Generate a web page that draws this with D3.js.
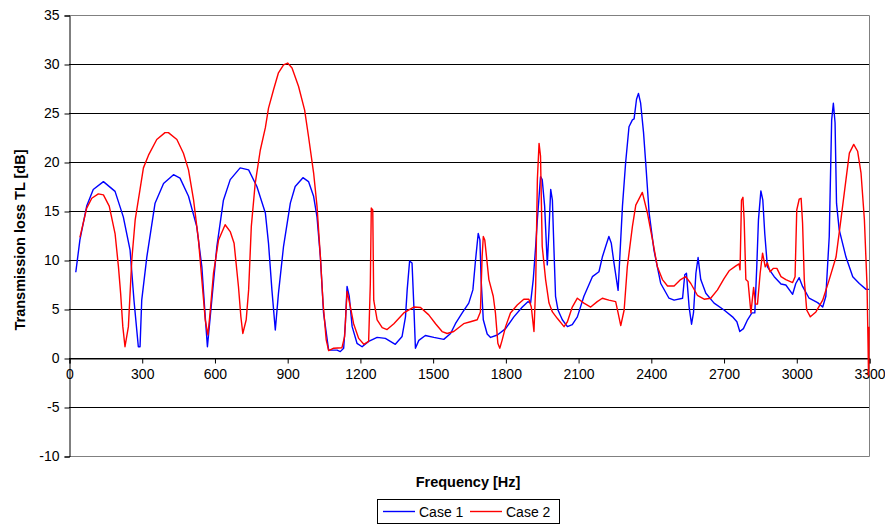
<!DOCTYPE html>
<html>
<head>
<meta charset="utf-8">
<script src="https://cdn.jsdelivr.net/npm/d3@7"></script>
<style>
  body { margin: 0; background: #fff; }
  svg { display: block; font-family: "Liberation Sans", Arial, sans-serif; }
  .tick text { fill: #000; }
</style>
</head>
<body>
<svg id="chart"></svg>
<script>
// data
var xTicks = [0,300,600,900,1200,1500,1800,2100,2400,2700,3000,3300]
var yTicks = [-10,-5,0,5,10,15,20,25,30,35]

var case1Freq = [28,45,73,100,142,190,224,252,268,286,293,300,321,355,390,431,458,493,527,548,562,571,589,610,637,665,706,741,775,810,823,837,851,864,885,913,933,965,988,1009,1023,1037,1050,1071,1106,1119,1133,1140,1147,1156,1168,1188,1209,1236,1271,1305,1346,1374,1388,1395,1405,1415,1422,1429,1443,1470,1505,1546,1574,1594,1622,1649,1666,1677,1688,1695,1700,1709,1725,1739,1767,1801,1835,1870,1893,1904,1915,1925,1932,1945,1952,1962,1973,1980,1987,1994,2000,2007,2017,2035,2056,2076,2097,2124,2159,2186,2200,2214,2227,2237,2248,2265,2273,2283,2296,2310,2324,2331,2341,2349,2358,2370,2379,2393,2413,2441,2475,2496,2531,2540,2547,2558,2568,2576,2586,2595,2606,2627,2661,2702,2737,2755,2767,2782,2799,2817,2829,2837,2844,2854,2862,2870,2881,2909,2937,2957,2985,2998,3012,3026,3053,3088,3109,3122,3136,3146,3153,3160,3166,3177,3205,3233,3260,3288,3300]
var case1TL = [8.75,12.05,15.5,17.2,18.0,17.0,14.4,11.0,5.9,1.15,1.15,5.9,10.3,15.8,17.8,18.7,18.35,16.5,13.4,9.3,4.2,1.15,5.9,11.4,16.1,18.2,19.4,19.2,17.5,14.8,11.7,6.95,2.86,6.6,11.4,15.8,17.5,18.4,18.0,16.5,14.4,10.3,4.6,0.8,0.8,0.65,1.0,3.5,7.3,6.3,3.2,1.5,1.15,1.7,2.1,2.0,1.4,2.2,4.2,6.95,9.9,9.7,5.6,1.0,1.8,2.3,2.1,1.9,2.5,3.5,4.6,5.6,6.95,10.0,12.7,12.05,8.0,3.9,2.45,2.1,2.35,3.0,4.2,5.2,5.75,5.6,8.0,11.4,14.1,18.5,18.2,15.5,9.5,13.1,17.2,16.1,11.4,6.3,4.9,3.9,3.2,3.4,4.2,6.3,8.3,8.8,10.3,11.4,12.4,11.7,9.7,6.9,10.7,15.5,19.9,23.6,24.3,24.4,26.4,27.0,26.0,23.0,19.9,14.8,11.0,7.6,6.1,5.9,6.1,8.5,8.65,5.2,3.45,4.6,8.65,10.25,8.0,6.6,5.6,4.9,4.2,3.7,2.7,3.0,3.9,4.6,4.6,9.3,14.1,17.05,16.1,12.7,9.3,8.3,7.55,7.45,6.5,7.6,8.2,7.3,6.1,5.65,5.2,6.3,12.4,24.3,26.0,24.0,15.8,13.1,10.3,8.3,7.6,7.0,7.0]

var case2Freq = [45,73,94,121,142,166,190,204,213,222,231,245,259,273,293,307,328,362,396,410,445,472,493,514,534,548,562,573,582,596,617,644,665,681,699,709,717,731,741,752,768,789,810,823,844,864,885,902,920,947,972,988,1009,1023,1037,1048,1061,1071,1092,1126,1137,1147,1161,1174,1195,1216,1236,1243,1247,1253,1257,1271,1292,1312,1340,1381,1422,1450,1484,1512,1539,1560,1587,1628,1656,1684,1697,1704,1709,1715,1732,1750,1759,1769,1777,1787,1801,1821,1849,1876,1897,1907,1918,1925,1932,1939,1945,1952,1966,1980,1994,2014,2042,2056,2076,2097,2124,2152,2179,2200,2227,2255,2265,2276,2290,2303,2324,2338,2365,2386,2407,2427,2448,2469,2496,2523,2544,2565,2592,2620,2647,2675,2702,2723,2751,2764,2768,2774,2780,2785,2792,2801,2813,2824,2832,2840,2851,2861,2872,2881,2892,2906,2920,2937,2957,2985,2995,3002,3012,3020,3026,3033,3043,3058,3081,3109,3136,3164,3184,3205,3219,3237,3253,3267,3281,3292,3296,3298,3299,3300]
var case2TL = [12.3,15.3,16.3,16.75,16.65,15.5,12.7,9.3,6.6,3.2,1.15,3.2,10.0,14.1,17.2,19.4,20.7,22.3,23.0,23.0,22.3,20.9,19.2,16.1,12.05,8.0,3.9,2.35,4.6,8.65,12.05,13.6,12.9,11.7,7.3,4.2,2.5,3.9,6.95,13.4,17.8,21.2,23.5,25.5,27.4,29.1,29.9,30.1,29.6,27.7,25.3,22.6,18.9,15.5,10.3,5.6,1.85,0.75,1.0,1.05,2.2,6.8,5.2,3.5,2.0,1.4,1.7,7.6,15.3,15.1,5.9,3.9,3.1,2.9,3.5,4.6,5.2,5.15,4.4,3.5,2.7,2.5,2.7,3.5,3.7,3.9,4.7,10.3,12.4,12.05,8.0,6.3,4.6,1.5,1.0,1.85,3.2,4.6,5.4,6.0,6.0,5.2,2.7,7.3,18.2,21.9,20.6,11.4,8.0,5.6,4.7,4.05,3.2,3.7,5.2,6.1,5.6,5.2,5.75,6.1,5.9,5.75,4.6,3.3,4.9,9.3,13.4,15.6,16.9,14.8,12.05,9.3,8.0,7.35,7.35,8.0,8.3,7.6,6.4,6.0,6.1,6.95,8.1,8.9,9.4,9.6,9.0,16.1,16.4,14.1,8.0,7.8,4.6,7.2,5.5,5.5,8.65,10.7,9.3,9.7,8.8,9.15,9.15,8.3,8.0,7.7,8.3,15.1,16.2,16.3,13.75,8.0,4.9,4.2,4.7,5.9,8.0,10.3,14.1,18.2,20.9,21.8,21.1,18.9,14.1,7.3,1.5,-1.8,-0.5,3.2]

var seriesNames = ["Case 1","Case 2"]
var seriesColors = ["#0000ff","#ff0000"]

var svg = d3.select("#chart").attr("width",885).attr("height",524)

var x = d3.scaleLinear().domain([0,3300]).range([69,869])
var y = d3.scaleLinear().domain([-10,35]).range([456,15])
var plain = d=>String(d)   // no thousands comma, hyphen minus

// gridlines
svg.append("g")
   .selectAll("line")
   .data(yTicks.filter(d=>d>-10 && d<35))
   .enter()
   .append("line")
   .attr("x1",x(0)).attr("x2",x(3300))
   .attr("y1",d=>Math.round(y(d))+0.5).attr("y2",d=>Math.round(y(d))+0.5)
   .attr("stroke","#000").attr("stroke-width",1)

// plot border (top, right, bottom)
svg.append("path")
   .attr("d","M"+x(0)+","+(y(35)+0.5)+"H"+(x(3300)+0.5)+"V"+(y(-10)+0.5)+"H"+x(0))
   .attr("fill","none").attr("stroke","#808080")

// y axis
var yAxis = svg.append("g")
   .attr("transform","translate("+(x(0)+0.5)+",0.5)")
   .call(d3.axisLeft(y).tickValues(yTicks).tickFormat(plain).tickSize(5).tickPadding(5))
yAxis.selectAll("path, line").attr("stroke","#000")
yAxis.selectAll("text").attr("font-size",14).attr("font-family","Liberation Sans, Arial")

// x axis crosses at 0
var xAxis = svg.append("g")
   .attr("transform","translate(0.5,"+(Math.round(y(0))+0.5)+")")
   .call(d3.axisBottom(x).tickValues(xTicks).tickFormat(plain).tickSize(5).tickPadding(6))
xAxis.select(".domain").attr("stroke","#000")
xAxis.selectAll("line").attr("stroke","#000")
xAxis.selectAll("text").attr("font-size",14).attr("font-family","Liberation Sans, Arial")

// lines
var line = d3.line().x(d=>x(d[0])).y(d=>y(d[1]))
var series = [d3.zip(case1Freq,case1TL), d3.zip(case2Freq,case2TL)]

svg.append("g")
   .selectAll("path")
   .data(series)
   .enter()
   .append("path")
   .attr("d",line)
   .attr("fill","none")
   .attr("stroke",(d,i)=>seriesColors[i])
   .attr("stroke-width",1.4)
   .attr("stroke-linejoin","round")

// titles
svg.append("text")
   .text("Frequency [Hz]")
   .attr("x",468).attr("y",487)
   .attr("text-anchor","middle")
   .style("font-weight","bold").style("font-size","14.5px")

svg.append("text")
   .text("Transmission loss TL [dB]")
   .attr("transform","translate(25,240) rotate(-90)")
   .attr("text-anchor","middle")
   .style("font-weight","bold").style("font-size","14.5px")

// legend
var legend = svg.append("g")
legend.append("rect")
   .attr("x",377.5).attr("y",499.5).attr("width",182).attr("height",24)
   .attr("fill","#fff").attr("stroke","#000")
var items = legend.selectAll("g.item")
   .data(seriesNames)
   .enter()
   .append("g")
   .attr("transform",(d,i)=>"translate("+(383+i*87)+",511)")
items.append("line")
   .attr("x1",0).attr("x2",32).attr("y1",0.5).attr("y2",0.5)
   .attr("stroke",(d,i)=>seriesColors[i]).attr("stroke-width",1.4)
items.append("text")
   .text(d=>d)
   .attr("x",36).attr("y",5.5)
   .style("font-size","14px")
</script>
</body>
</html>
